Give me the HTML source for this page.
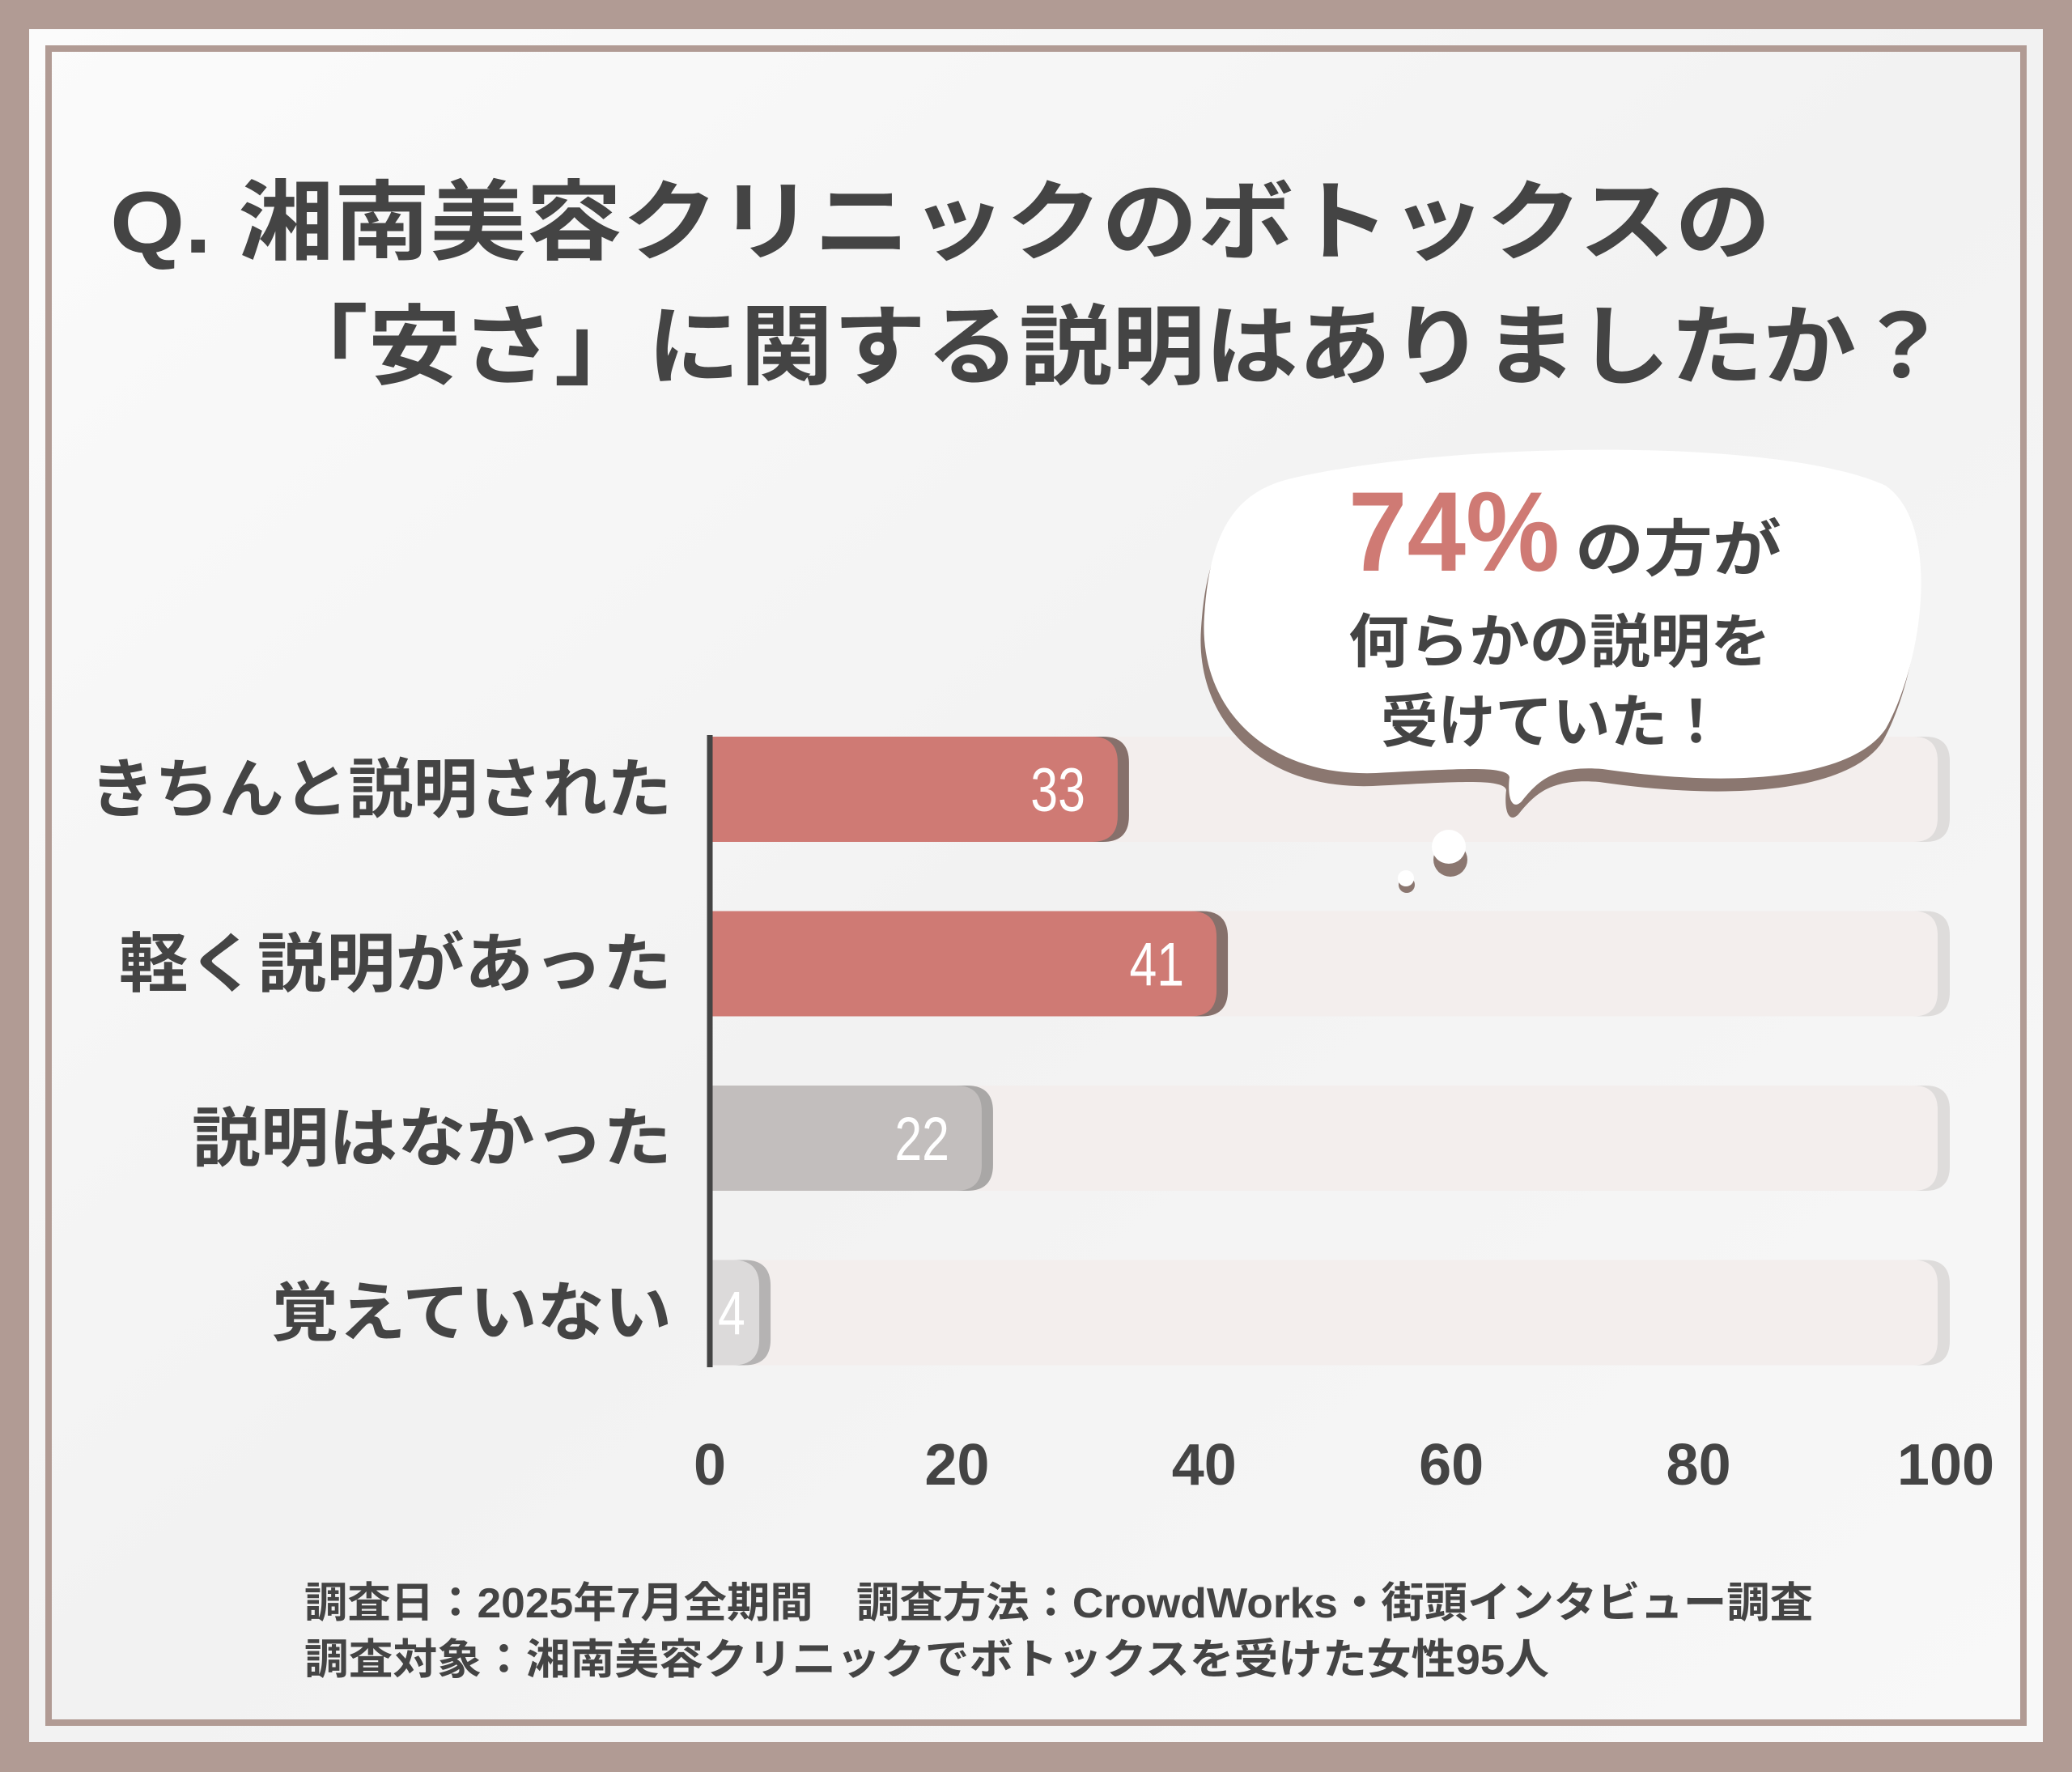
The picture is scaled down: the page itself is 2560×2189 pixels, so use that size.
<!DOCTYPE html>
<html><head><meta charset="utf-8"><style>
html,body{margin:0;padding:0;background:#b19b94;}
svg{display:block;font-family:"Liberation Sans","Noto Sans CJK JP",sans-serif;}
</style></head><body>
<svg width="2560" height="2189" viewBox="0 0 2560 2189" xmlns="http://www.w3.org/2000/svg">
<defs>
<linearGradient id="bgG" x1="0" y1="0" x2="1" y2="1">
<stop offset="0" stop-color="#fbfbfb"/><stop offset="0.5" stop-color="#f2f2f2"/><stop offset="1" stop-color="#f8f8f8"/>
</linearGradient>
</defs>
<rect x="0" y="0" width="2560" height="2189" fill="#b19b94"/>
<rect x="36" y="36" width="2488" height="2116" fill="url(#bgG)"/>
<rect x="60" y="60" width="2440" height="2068" fill="none" stroke="#b19b94" stroke-width="8"/>

<g fill="#444" font-weight="700" font-size="108">
<text x="136" y="312" textLength="2052" lengthAdjust="spacingAndGlyphs">Q. 湘南美容クリニックのボトックスの</text>
<text x="340" y="466" textLength="2068" lengthAdjust="spacingAndGlyphs">「安さ」に関する説明はありましたか？</text>
</g>

<g id="chart"></g>

<g>
<path transform="translate(-4,16)" fill="#8b7770" d="M1600,590 C1800,545 2200,540 2330,600 C2400,650 2375,820 2330,900 C2290,960 2150,975 1980,950 C1920,945 1900,965 1880,990 C1868,1002 1862,985 1865,960 C1862,945 1800,950 1700,955 C1560,960 1480,870 1488,760 C1495,650 1530,605 1600,590 Z"/>
<path fill="#ffffff" d="M1600,590 C1800,545 2200,540 2330,600 C2400,650 2375,820 2330,900 C2290,960 2150,975 1980,950 C1920,945 1900,965 1880,990 C1868,1002 1862,985 1865,960 C1862,945 1800,950 1700,955 C1560,960 1480,870 1488,760 C1495,650 1530,605 1600,590 Z"/>
<circle cx="1792" cy="1062" r="21" fill="#8b7770"/>
<circle cx="1790" cy="1046" r="21" fill="#fff"/>
<circle cx="1738" cy="1093" r="10" fill="#8b7770"/>
<circle cx="1737" cy="1085" r="10" fill="#fff"/>
<text x="1666" y="705" font-size="140" font-weight="700" fill="#cf7a74" textLength="261" lengthAdjust="spacingAndGlyphs">74%</text>
<text x="1946" y="705" font-size="76" font-weight="700" fill="#444" textLength="255" lengthAdjust="spacingAndGlyphs">の方が</text>
<text x="1666" y="818" font-size="72" font-weight="700" fill="#444" textLength="522" lengthAdjust="spacingAndGlyphs">何らかの説明を</text>
<text x="1706" y="917" font-size="72" font-weight="700" fill="#444" textLength="425" lengthAdjust="spacingAndGlyphs">受けていた！</text>
</g>

<g fill="#444" font-size="52" font-weight="700">
<text x="376" y="1998" textLength="1864" lengthAdjust="spacingAndGlyphs">調査日：2025年7月全期間　調査方法：CrowdWorks・街頭インタビュー調査</text>
<text x="376" y="2068" textLength="1538" lengthAdjust="spacingAndGlyphs">調査対象：湘南美容クリニックでボトックスを受けた女性95人</text>
</g>

<script>
const categories = ["きちんと説明された","軽く説明があった","説明はなかった","覚えていない"];
const values = [33, 41, 22, 4];
const tickValues = [0, 20, 40, 60, 80, 100];
const labelStarts = [111, 147, 237, 335];

const NS = "http://www.w3.org/2000/svg";
const g = document.getElementById("chart");
const x0 = 877, x1 = 2404, maxV = 100;
const xs = v => x0 + (v / maxV) * (x1 - x0);
const rowTop = i => 910 + i * 215.5;
const barH = 130;
const fills = ["#cf7a74","#cf7a74","#c2bebd","#dcdada"];
const shades = ["#86706b","#86706b","#a9a7a6","#b5b3b3"];
function mk(tag, attrs){ const e=document.createElementNS(NS,tag); for(const k in attrs) e.setAttribute(k,attrs[k]); g.appendChild(e); return e; }
function rr(x,y,w,h,r){ r=Math.min(r,w); return `M${x},${y} H${x+w-r} Q${x+w},${y} ${x+w},${y+r} V${y+h-r} Q${x+w},${y+h} ${x+w-r},${y+h} H${x} Z`; }

categories.forEach((c,i)=>{
  const y = rowTop(i);
  const ts = mk("path",{d:rr(x0,y,xs(maxV)-x0+5,barH,30),fill:"#dedcdb"});
  
  
  const tr = mk("path",{d:rr(x0,y,xs(maxV)-x0-10,barH,30),fill:"#f3eeed"});
  
  
  const w = xs(values[i]) - x0;
  const sh = mk("path",{d:rr(x0,y,w+14,barH,32),fill:shades[i]});
  
  
  const b = mk("path",{d:rr(x0,y,w,barH,32),fill:fills[i]});
  
  
  const vt = mk("text",{x:xs(values[i])-40,y:y+barH/2+27,"text-anchor":"end","font-size":"76",fill:"#fff",transform:"",});
  
  
  vt.textContent = values[i];
  let vx = xs(values[i])-40;
  if (values[i] < 8) { vt.setAttribute("text-anchor","start"); vx = x0+10; }
  vt.setAttribute("x", 0);
  vt.setAttribute("transform", `translate(${vx},0) scale(0.8,1)`);
  const lt = mk("text",{x:labelStarts[i],y:y+barH/2+28,"font-size":"80","font-weight":"700",fill:"#444",textLength:830-labelStarts[i],lengthAdjust:"spacingAndGlyphs"});
  
  
  lt.textContent = c;
});
const ax = mk("line",{x1:x0,y1:908,x2:x0,y2:1689,stroke:"#444","stroke-width":"7"});


tickValues.forEach(t=>{
  const tt = mk("text",{x:xs(t),y:1834,"text-anchor":"middle","font-size":"72","font-weight":"700",fill:"#444"});
  
  
  tt.textContent = t;
});
</script>
</svg>
</body></html>
